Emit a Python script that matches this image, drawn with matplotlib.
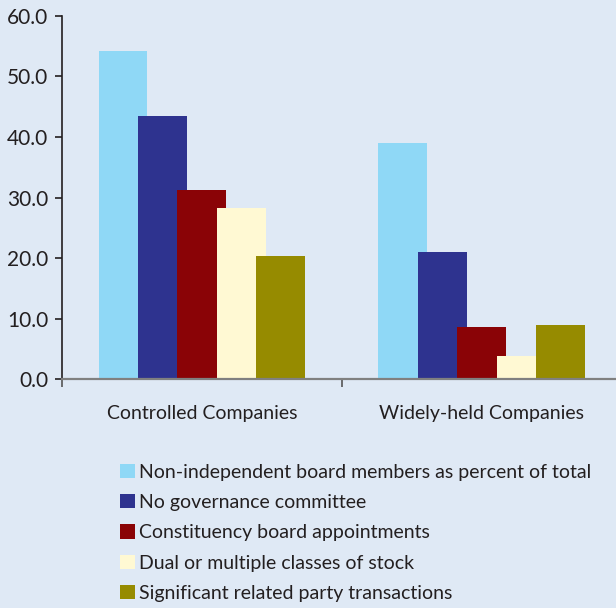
import matplotlib
matplotlib.use("Agg")
import matplotlib.pyplot as plt
import numpy as np
from matplotlib.patches import Patch

categories = ["Controlled Companies", "Widely-held Companies"]
series_names = [
    "Non-independent board members as percent of total",
    "No governance committee",
    "Constituency board appointments",
    "Dual or multiple classes of stock",
    "Significant related party transactions",
]
non_independent = [54.2, 39.0]
no_governance = [43.5, 21.0]
constituency = [31.2, 8.6]
dual_classes = [28.3, 3.8]
related_party = [20.3, 8.9]
yticks = [0, 10, 20, 30, 40, 50, 60]

series = [non_independent, no_governance, constituency, dual_classes, related_party]
colors = ["#8fd8f6", "#2e338f", "#8a0306", "#fff9d3", "#968b00"]
bg = "#dfe9f5"

plt.rcParams['font.family'] = ['Lato', 'DejaVu Sans']

fig = plt.figure(figsize=(6.16, 6.08), dpi=100, facecolor=bg)
ax = fig.add_axes([0.1006, 0.3766, 0.8994, 0.5971])
ax.set_facecolor(bg)

x = np.arange(len(categories))
step = 0.141
width = 0.175
for i, (vals, c) in enumerate(zip(series, colors)):
    ax.bar(x + (i - 2) * step, vals, width=width, color=c, zorder=2 + i, linewidth=0)

ax.set_xlim(-0.5, 1.479)
ax.set_ylim(0, 60)
ax.set_yticks(yticks)
ax.set_yticklabels([f"{v:.1f}" for v in yticks], fontsize=15, color="#231f20")
ax.set_xticks(x)
ax.set_xticklabels(categories, fontsize=14, color="#231f20")
ax.tick_params(axis='x', length=0, pad=19)
ax.set_xticks([-0.5, 0.5], minor=True)
ax.tick_params(axis='x', which='minor', length=6, width=1.2, color="#555555", direction='out')
ax.tick_params(axis='y', length=5, width=1.2, color="#231f20", direction='out', pad=5)

for s in ["top", "right"]:
    ax.spines[s].set_visible(False)
ax.spines["left"].set_color("#231f20")
ax.spines["left"].set_linewidth(1.2)
ax.spines["bottom"].set_color("#808080")
ax.spines["bottom"].set_linewidth(1.6)
ax.spines["bottom"].set_zorder(10)

handles = [Patch(facecolor=c, edgecolor='none') for c in colors]
fig.legend(handles, series_names, loc='upper left', bbox_to_anchor=(0.195, 0.237),
           frameon=False, fontsize=14, handlelength=0.75, handleheight=0.75,
           handletextpad=0.22, labelspacing=0.68, borderaxespad=0, borderpad=0,
           labelcolor="#231f20")

fig.savefig("out.png", dpi=100, facecolor=bg)
